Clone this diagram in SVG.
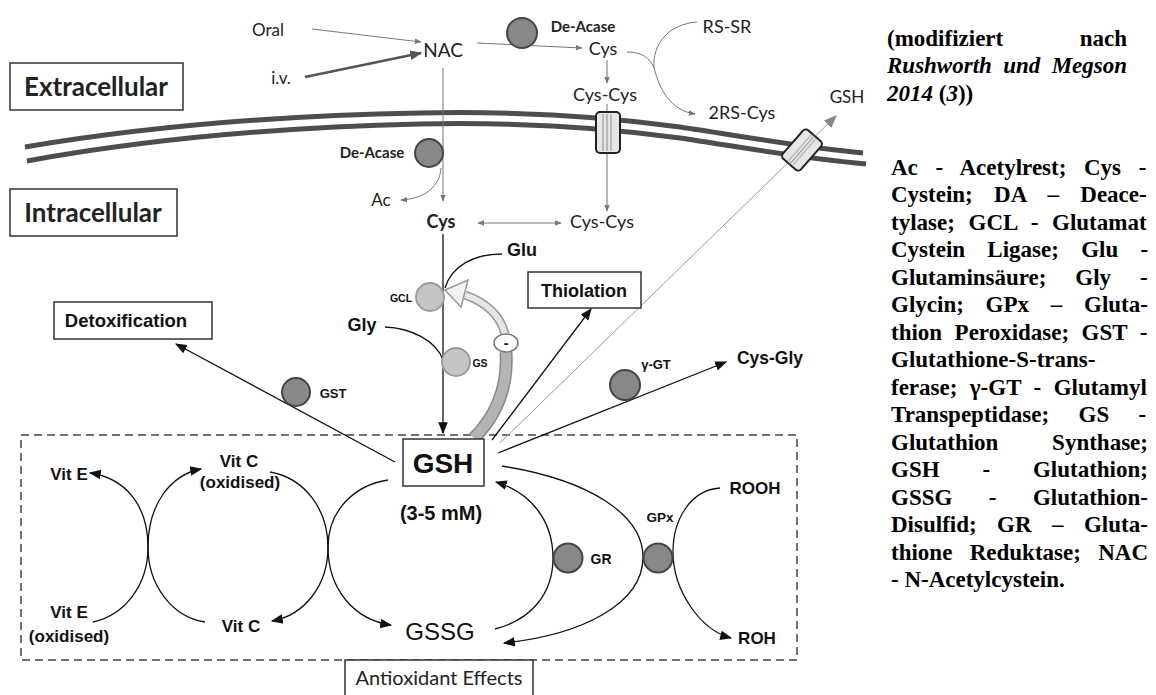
<svg xmlns="http://www.w3.org/2000/svg" width="1156" height="695" viewBox="0 0 1156 695">
<style>
.c{font-family:Lato,"Liberation Sans",sans-serif;fill:#222}
.a{font-family:"Liberation Sans",Arial,sans-serif;fill:#111}
.b{font-weight:bold}
.r{font-family:"Liberation Serif","Times New Roman",serif;font-weight:bold;font-size:23px;fill:#000}
.thin{fill:none;stroke:#777;stroke-width:1}
.blk{fill:none;stroke:#111;stroke-width:1.3}
.enz{fill:#888;stroke:#444;stroke-width:2}
.enzl{fill:#c4c4c4;stroke:#999;stroke-width:1.8}
.box{fill:#fff;stroke:#333;stroke-width:1.5}
.mem{fill:none;stroke:#4d4d4d;stroke-width:5}
</style>
<defs>
<marker id="ag" viewBox="0 0 10 10" refX="9" refY="5" markerWidth="7" markerHeight="7" markerUnits="userSpaceOnUse" orient="auto-start-reverse"><path d="M0,1 L10,5 L0,9 z" fill="#777"/></marker>
<marker id="agl" viewBox="0 0 10 10" refX="9" refY="5" markerWidth="13" markerHeight="13" markerUnits="userSpaceOnUse" orient="auto"><path d="M0,1 L10,5 L0,9 z" fill="#888"/></marker>
<marker id="ad" viewBox="0 0 10 10" refX="9" refY="5" markerWidth="12" markerHeight="12" markerUnits="userSpaceOnUse" orient="auto"><path d="M0,1 L10,5 L0,9 z" fill="#555"/></marker>
<marker id="ab" viewBox="0 0 10 10" refX="9" refY="5" markerWidth="12" markerHeight="12" markerUnits="userSpaceOnUse" orient="auto"><path d="M0,1 L10,5 L0,9 z" fill="#111"/></marker>
</defs>
<rect width="1156" height="695" fill="#fff"/>

<g id="membrane">
<path class="mem" d="M25,147 C120,131 250,116 420,113 C520,111 600,116 680,127 C740,136 800,147 863,153"/>
<path class="mem" d="M27,161 C120,144 250,128 420,124 C520,122 600,127 680,138 C740,147 800,158 866,164"/>
</g>

<g id="antioxidant-region">
<rect x="21" y="435" width="776" height="225" fill="none" stroke="#444" stroke-width="1.5" stroke-dasharray="8,5"/>
</g>

<g id="connectors">
<path class="thin" d="M312,29 L421,42" marker-end="url(#ag)"/>
<path d="M305,77 L421,53" fill="none" stroke="#555" stroke-width="2.5" marker-end="url(#ad)"/>
<path class="thin" d="M477,43 L582,48" marker-end="url(#ag)"/>
<path class="thin" d="M443,68 L443,201" marker-end="url(#ag)"/>
<path class="thin" d="M441,168 C440,186 425,199 401,200" marker-end="url(#ag)"/>
<path class="thin" d="M607,60 L607,83" marker-end="url(#ag)"/>
<path class="thin" d="M607,104 L607,211" marker-end="url(#ag)"/>
<path class="thin" d="M627,52 C642,52 650,58 654,68 C660,90 670,110 695,114" marker-end="url(#ag)"/>
<path class="thin" d="M697,22 C668,24 652,45 654,68"/>
<path class="thin" d="M478,223 L561,223" marker-start="url(#ag)" marker-end="url(#ag)"/>
<path d="M500,443 L836,116" fill="none" stroke="#999" stroke-width="1" marker-end="url(#agl)"/>
<path class="blk" d="M443,234 L443,433" marker-end="url(#ab)"/>
<path class="blk" d="M502,254 C475,254 452,265 445,288" stroke-width="1"/>
<path class="blk" d="M385,327 C410,328 436,340 443,360" stroke-width="1"/>
<path class="blk" d="M395,462 L176,344" marker-end="url(#ab)"/>
<path class="blk" d="M492,440 L591,309" marker-end="url(#ab)"/>
<path class="blk" d="M498,453 L726,362" marker-end="url(#ab)"/>
<path class="blk" d="M93,622 C125,615 148,585 148,547 C148,505 125,478 90,473" marker-end="url(#ab)"/>
<path class="blk" d="M205,622 C172,617 148,585 148,547 C148,505 170,475 201,469" marker-end="url(#ab)"/>
<path class="blk" d="M270,472 C305,478 328,510 328,547 C328,585 305,615 272,621" marker-end="url(#ab)"/>
<path class="blk" d="M388,480 C355,485 328,510 328,547 C328,590 355,620 391,625" marker-end="url(#ab)"/>
<path class="blk" d="M495,629 C530,620 553,595 553,558 C553,520 530,492 496,482" marker-end="url(#ab)"/>
<path class="blk" d="M502,466 C590,480 643,515 643,557 C643,605 580,635 504,643" marker-end="url(#ab)"/>
<path class="blk" d="M720,488 C690,490 673,520 673,552 C673,590 700,630 731,638" marker-end="url(#ab)"/>
</g>

<g id="feedback">
<path d="M474,438 C498,414 508,385 506,352" fill="none" stroke="#8a8a8a" stroke-width="13"/>
<path d="M474,438 C498,414 508,385 506,352" fill="none" stroke="#b4b4b4" stroke-width="10"/>
<path d="M505,334 C500,315 485,302 465,295" fill="none" stroke="#999" stroke-width="9"/>
<path d="M505,334 C500,315 485,302 465,295" fill="none" stroke="#e6e6e6" stroke-width="6"/>
<path d="M445,290 L468,280 L461,307 z" fill="#f2f2f2" stroke="#999" stroke-width="1.5"/>
</g>
<g id="n-inhibit">
<ellipse cx="506" cy="343" rx="12" ry="9" fill="#fff" stroke="#777" stroke-width="1.5"/>
<text class="a b" x="506" y="348" font-size="14" text-anchor="middle">-</text>
</g>

<g id="n-transporter1">
<rect x="596" y="112" width="24" height="41" rx="4" fill="#e6e6e6" stroke="#222" stroke-width="2"/>
<path d="M603,114 V151 M607,114 V151 M611,114 V151" stroke="#aaa" stroke-width="1.5"/>
</g>
<g id="n-transporter2" transform="rotate(41 802 150)">
<rect x="790" y="131" width="24" height="38" rx="4" fill="#e6e6e6" stroke="#222" stroke-width="2"/>
<path d="M799,133 V167 M805,133 V167" stroke="#bbb" stroke-width="1.5"/>
<path d="M802,131 V169" stroke="#999" stroke-width="1"/>
</g>

<g id="n-extracellular"><rect class="box" x="10" y="63" width="173" height="47"/><text class="c b" x="96" y="96" font-size="26" text-anchor="middle">Extracellular</text></g>
<g id="n-intracellular"><rect class="box" x="10" y="189" width="167" height="47"/><text class="c b" x="93" y="222" font-size="26" text-anchor="middle">Intracellular</text></g>
<g id="n-oral"><text class="c" x="268" y="36" font-size="17" text-anchor="middle">Oral</text></g>
<g id="n-iv"><text class="c" x="281" y="84" font-size="17" text-anchor="middle">i.v.</text></g>
<g id="n-nac"><text class="c" x="443" y="57" font-size="19" text-anchor="middle">NAC</text></g>
<g id="n-deacase1"><circle class="enz" cx="522" cy="33" r="15"/><text class="c b" x="583" y="32" font-size="15" text-anchor="middle">De-Acase</text></g>
<g id="n-cys-ext"><text class="c" x="603" y="55" font-size="18" text-anchor="middle">Cys</text></g>
<g id="n-cyscys-ext"><text class="c" x="605" y="101" font-size="18" text-anchor="middle">Cys-Cys</text></g>
<g id="n-rssr"><text class="c" x="727" y="33" font-size="18" text-anchor="middle">RS-SR</text></g>
<g id="n-2rscys"><text class="c" x="742" y="119" font-size="18" text-anchor="middle">2RS-Cys</text></g>
<g id="n-gsh-ext"><text class="c" x="847" y="103" font-size="17" text-anchor="middle">GSH</text></g>
<g id="n-deacase2"><circle class="enz" cx="429" cy="153" r="14"/><text class="c b" x="372" y="158" font-size="15" text-anchor="middle">De-Acase</text></g>
<g id="n-ac"><text class="c" x="381" y="206" font-size="17" text-anchor="middle">Ac</text></g>
<g id="n-cys-int"><text class="c b" x="441" y="228" font-size="18" text-anchor="middle">Cys</text></g>
<g id="n-cyscys-int"><text class="c" x="602" y="228" font-size="18" text-anchor="middle">Cys-Cys</text></g>
<g id="n-glu"><text class="a b" x="522" y="256" font-size="18" text-anchor="middle">Glu</text></g>
<g id="n-gcl"><circle class="enzl" cx="430" cy="297" r="14"/><text class="a b" x="401" y="302" font-size="10.5" text-anchor="middle">GCL</text></g>
<g id="n-gly"><text class="a b" x="362" y="331" font-size="18" text-anchor="middle">Gly</text></g>
<g id="n-gs"><circle class="enzl" cx="456" cy="362" r="14"/><text class="a b" x="480" y="367" font-size="10.5" text-anchor="middle">GS</text></g>
<g id="n-thiolation"><rect class="box" x="528" y="272" width="113" height="36"/><text class="a b" x="584" y="297" font-size="18" text-anchor="middle">Thiolation</text></g>
<g id="n-detox"><rect class="box" x="54" y="302" width="158" height="37"/><text class="a b" x="126" y="327" font-size="18.5" text-anchor="middle">Detoxification</text></g>
<g id="n-gst"><circle class="enz" cx="296" cy="392" r="14"/><text class="a b" x="333" y="398" font-size="13" text-anchor="middle">GST</text></g>
<g id="n-ggt"><circle class="enz" cx="625" cy="385" r="15"/><text class="a b" x="656" y="369" font-size="13" text-anchor="middle">γ-GT</text></g>
<g id="n-cysgly"><text class="a b" x="770" y="364" font-size="17.5" text-anchor="middle">Cys-Gly</text></g>
<g id="n-gsh"><rect class="box" x="403" y="439" width="81" height="47"/><text class="a b" x="443" y="473" font-size="28" text-anchor="middle">GSH</text><text class="a b" x="441" y="520" font-size="20" text-anchor="middle">(3-5 mM)</text></g>
<g id="n-gssg"><text class="a" x="440" y="640" font-size="24" text-anchor="middle">GSSG</text></g>
<g id="n-vite"><text class="a b" x="69" y="480" font-size="17" text-anchor="middle">Vit E</text></g>
<g id="n-vitc-ox"><text class="a b" x="239" y="467" font-size="17" text-anchor="middle">Vit C</text><text class="a b" x="240" y="488" font-size="17" text-anchor="middle">(oxidised)</text></g>
<g id="n-vite-ox"><text class="a b" x="69" y="618" font-size="17" text-anchor="middle">Vit E</text><text class="a b" x="69" y="642" font-size="17" text-anchor="middle">(oxidised)</text></g>
<g id="n-vitc"><text class="a b" x="241" y="632" font-size="17" text-anchor="middle">Vit C</text></g>
<g id="n-gr"><circle class="enz" cx="568" cy="558" r="14.5"/><text class="a b" x="601" y="564" font-size="14" text-anchor="middle">GR</text></g>
<g id="n-gpx"><circle class="enz" cx="658" cy="558" r="14.5"/><text class="a b" x="660" y="522" font-size="13.5" text-anchor="middle">GPx</text></g>
<g id="n-rooh"><text class="a b" x="755" y="494" font-size="17" text-anchor="middle">ROOH</text></g>
<g id="n-roh"><text class="a b" x="757" y="644" font-size="17" text-anchor="middle">ROH</text></g>
<g id="n-antiox"><rect class="box" x="345" y="660" width="188" height="45"/><text class="c" x="439" y="685" font-size="20" text-anchor="middle">Antioxidant Effects</text></g>

<g id="caption">
<text class="r" x="887" y="45.5" style="word-spacing:70.7px">(modifiziert nach</text>
<text class="r" x="887" y="73" font-style="italic" style="word-spacing:5.6px">Rushworth und Megson</text>
<text class="r" x="887" y="100.5"><tspan font-style="italic">2014</tspan> (<tspan font-style="italic">3</tspan>))</text>
</g>
<g id="legend">
<text class="r" x="891" y="174.5" style="word-spacing:11.9px">Ac - Acetylrest; Cys -</text>
<text class="r" x="891" y="202" style="word-spacing:15.6px">Cystein; DA – Deace-</text>
<text class="r" x="891" y="229.5" style="word-spacing:7.9px">tylase; GCL - Glutamat</text>
<text class="r" x="891" y="257" style="word-spacing:16.5px">Cystein Ligase; Glu -</text>
<text class="r" x="891" y="284.5" style="word-spacing:23.1px">Glutaminsäure; Gly -</text>
<text class="r" x="891" y="312" style="word-spacing:16px">Glycin; GPx – Gluta-</text>
<text class="r" x="891" y="339.5" style="word-spacing:6.7px">thion Peroxidase; GST -</text>
<text class="r" x="891" y="367">Glutathione-S-trans-</text>
<text class="r" x="891" y="394.5" style="word-spacing:6.7px">ferase; γ-GT - Glutamyl</text>
<text class="r" x="891" y="422" style="word-spacing:23.7px">Transpeptidase; GS -</text>
<text class="r" x="891" y="449.5" style="word-spacing:48px">Glutathion Synthase;</text>
<text class="r" x="891" y="477" style="word-spacing:37.1px">GSH - Glutathion;</text>
<text class="r" x="891" y="504.5" style="word-spacing:30.7px">GSSG - Glutathion-</text>
<text class="r" x="891" y="532" style="word-spacing:14.7px">Disulfid; GR – Gluta-</text>
<text class="r" x="891" y="559.5" style="word-spacing:11.6px">thione Reduktase; NAC</text>
<text class="r" x="891" y="587">- N-Acetylcystein.</text>
</g>
</svg>
